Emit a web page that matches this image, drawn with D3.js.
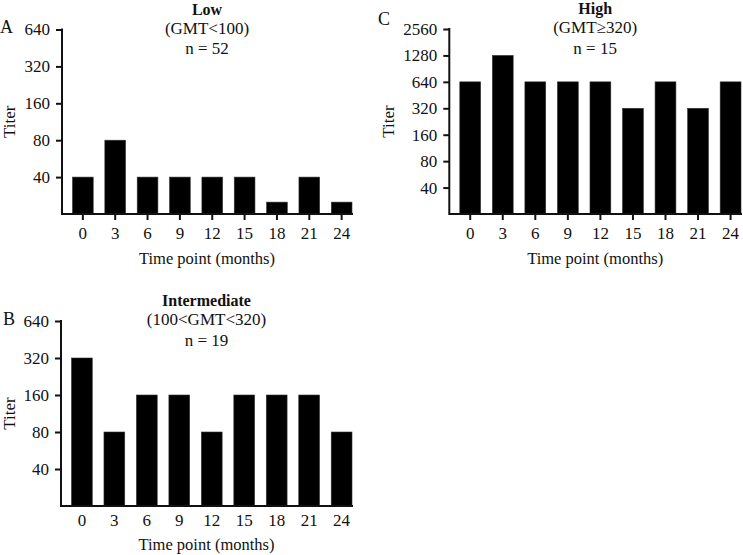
<!DOCTYPE html>
<html><head><meta charset="utf-8">
<script src="https://cdn.jsdelivr.net/npm/d3@7"></script>
<style>
body{margin:0;background:#fff}
text{font-family:"Liberation Serif","Times New Roman",serif;fill:#111}
</style>
</head><body><svg id="c" width="743" height="555"></svg>
<script>
const months = [0,3,6,9,12,15,18,21,24];
const lowTiter = [40,80,40,40,40,40,25,40,25];
const intermediateTiter = [320,80,160,160,80,160,160,160,80];
const highTiter = [640,1280,640,640,640,320,640,320,640];
const ticksAB = [40,80,160,320,640];
const ticksC = [40,80,160,320,640,1280,2560];
const panelLetters = ["A","B","C"];
const panelTitles = ["Low","Intermediate","High"];
const panelSubs = ["(GMT<100)","(100<GMT<320)","(GMT\u2265320)"];
const panelNs = ["n = 52","n = 19","n = 15"];
const xTitle = "Time point (months)";
const yTitle = "Titer";

const layout = [
  {values: lowTiter, ticks: ticksAB, max: 640, L: 62, R: 352, top: 29.5, bottom: 214, xTicks: true, lx: 0, ly: 33},
  {values: intermediateTiter, ticks: ticksAB, max: 640, L: 61, R: 352, top: 321, bottom: 506, xTicks: false, lx: 3, ly: 325},
  {values: highTiter, ticks: ticksC, max: 2560, L: 449.3, R: 741, top: 29, bottom: 214, xTicks: true, lx: 378, ly: 25}
];

const svg = d3.select("#c");
const FS = 17;

layout.forEach((p, i) => {
  const g = svg.append("g");
  const y = d3.scaleLog().base(2).domain([20, p.max]).range([p.bottom, p.top]);
  const x = d3.scaleBand().domain(months).range([p.L + 10.5, p.R]).paddingInner(0.36).paddingOuter(0);

  g.selectAll("rect").data(p.values).enter().append("rect")
    .attr("x", (d, j) => x(months[j]))
    .attr("width", x.bandwidth())
    .attr("y", d => y(d))
    .attr("height", d => y(20) - y(d))
    .attr("fill", "#000")
    .attr("stroke", "#333").attr("stroke-width", 0.6);

  const ya = g.append("g").attr("transform", `translate(${p.L},0)`)
    .call(d3.axisLeft(y).tickValues(p.ticks).tickFormat(d3.format("d")).tickSize(6).tickPadding(6).tickSizeOuter(0));
  ya.select(".domain").remove();
  ya.selectAll(".tick line").attr("stroke", "#111").attr("stroke-width", 2);
  ya.selectAll(".tick text").attr("font-size", FS).attr("font-family", null).style("fill", "#111");

  const xa = g.append("g").attr("transform", `translate(0,${p.bottom})`)
    .call(d3.axisBottom(x).tickSize(p.xTicks ? 6 : 0).tickPadding(p.xTicks ? 7 : 8).tickSizeOuter(0));
  xa.select(".domain").remove();
  xa.selectAll(".tick line").attr("stroke", "#111").attr("stroke-width", 2);
  xa.selectAll(".tick text").attr("font-size", FS).attr("font-family", null).style("fill", "#111");

  g.append("path")
    .attr("d", `M${p.L},${y.range()[1]}V${y.range()[0]}H${p.R}`)
    .attr("fill", "none").attr("stroke", "#111").attr("stroke-width", 2).attr("stroke-linecap", "square");

  const cx = (p.L + p.R) / 2;
  g.append("text").attr("x", cx).attr("y", p.top - 15).attr("text-anchor", "middle")
    .attr("font-size", 16).attr("font-weight", "bold").text(panelTitles[i]);
  g.append("text").attr("x", cx).attr("y", p.top + 4).attr("text-anchor", "middle")
    .attr("font-size", FS).text(panelSubs[i]);
  g.append("text").attr("x", cx).attr("y", p.top + 24.5).attr("text-anchor", "middle")
    .attr("font-size", FS).text(panelNs[i]);

  g.append("text").attr("x", cx).attr("y", p.bottom + (p.xTicks ? 49.5 : 44)).attr("text-anchor", "middle")
    .attr("font-size", 16.5).text(xTitle);
  g.append("text").attr("transform", `translate(${i === 2 ? 394 : 15},${(p.top + p.bottom) / 2}) rotate(-90)`)
    .attr("text-anchor", "middle").attr("font-size", FS).text(yTitle);

  g.append("text").attr("x", p.lx).attr("y", p.ly).attr("font-size", 18).text(panelLetters[i]);
});
</script>
</body></html>
